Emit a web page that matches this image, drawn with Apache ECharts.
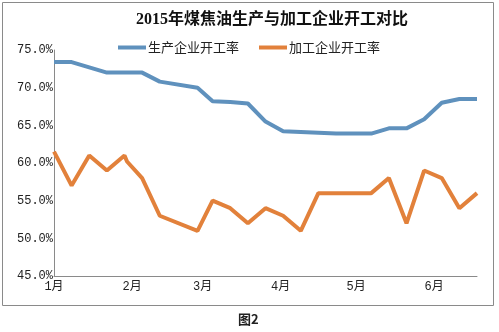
<!DOCTYPE html>
<html>
<head>
<meta charset="utf-8">
<script src="https://cdn.jsdelivr.net/npm/echarts@6/dist/echarts.min.js"></script>
<style>
  html, body { margin: 0; padding: 0; background: #fff; }
  #chart { width: 499px; height: 332px; }
</style>
</head>
<body>
<div id="chart"></div>
<script>
// Weekly survey dates (2015)
var dates = [
  '2015-01-01', '2015-01-08', '2015-01-15', '2015-01-22', '2015-01-29', '2015-01-30',
  '2015-02-05', '2015-02-12', '2015-02-27', '2015-03-05', '2015-03-12', '2015-03-19',
  '2015-03-26', '2015-04-02', '2015-04-09', '2015-04-16', '2015-04-23', '2015-04-30',
  '2015-05-07', '2015-05-14', '2015-05-21', '2015-05-28', '2015-06-04', '2015-06-11',
  '2015-06-18'
];
// Operating rate of producers (%)
var producerRate = [
  73.4, 73.4, 72.7, 72.0, 72.0, 72.0,
  72.0, 70.8, 70.0, 68.2, 68.1, 67.9,
  65.5, 64.2, 64.1, 64.0, 63.9, 63.9,
  63.9, 64.6, 64.6, 65.8, 68.0, 68.5,
  68.5
];
// Operating rate of processors (%)
var processorRate = [
  61.5, 57.0, 61.0, 59.0, 61.0, 60.2,
  58.0, 53.0, 51.0, 55.0, 54.0, 52.0,
  54.0, 53.0, 51.0, 56.0, 56.0, 56.0,
  56.0, 58.0, 52.0, 59.0, 58.0, 54.0,
  56.0
];
var seriesNames = ['生产企业开工率', '加工企业开工率'];
var yTicks = [45, 50, 55, 60, 65, 70, 75];

function pairs(values) {
  return dates.map(function (d, i) { return [d, values[i]]; });
}

var chart = echarts.init(document.getElementById('chart'), null, { renderer: 'canvas' });
var DAY = 24 * 3600 * 1000;

chart.setOption({
  backgroundColor: '#ffffff',
  animation: false,
  graphic: [
    {
      type: 'rect',
      shape: { x: 2.5, y: 2.5, width: 491, height: 303 },
      style: { fill: 'none', stroke: '#8a8a8a', lineWidth: 1 },
      z: -1
    },
    {
      type: 'text',
      left: 238,
      top: 313,
      style: {
        text: '图2',
        font: 'bold 13px "Noto Sans CJK SC", sans-serif',
        fill: '#222'
      }
    }
  ],
  title: {
    text: '2015年煤焦油生产与加工企业开工对比',
    left: 136,
    top: 12,
    padding: 0,
    textStyle: {
      fontFamily: '"Liberation Serif", "Noto Sans CJK SC", serif',
      fontSize: 16,
      fontWeight: 'bold',
      color: '#111'
    }
  },
  legend: {
    left: 118,
    top: 41,
    padding: 0,
    itemGap: 20,
    itemWidth: 28,
    itemHeight: 4,
    icon: 'rect',
    data: seriesNames,
    textStyle: {
      fontFamily: '"Noto Sans CJK SC", sans-serif',
      fontSize: 13,
      color: '#222',
      padding: [0, 0, 0, -3]
    }
  },
  grid: {
    left: 54,
    right: 22,
    top: 50,
    bottom: 56,
    containLabel: false
  },
  xAxis: {
    type: 'time',
    min: '2015-01-01',
    max: '2015-06-18',
    minInterval: 28 * DAY,
    maxInterval: 31 * DAY,
    splitLine: { show: false },
    axisTick: { show: false },
    axisLine: { lineStyle: { color: '#8a8a8a', width: 1 } },
    axisLabel: {
      margin: 5,
      showMinLabel: true,
      fontFamily: '"Liberation Mono", "Noto Sans CJK SC", monospace',
      fontSize: 12,
      color: '#222',
      formatter: function (v) {
        var d = new Date(v);
        return d.getDate() === 1 ? (d.getMonth() + 1) + '月' : '';
      }
    }
  },
  yAxis: {
    type: 'value',
    min: yTicks[0],
    max: yTicks[yTicks.length - 1],
    interval: yTicks[1] - yTicks[0],
    splitLine: { show: false },
    axisTick: { show: false },
    axisLine: { show: true, lineStyle: { color: '#8a8a8a', width: 1 } },
    axisLabel: {
      margin: 1,
      fontFamily: '"Liberation Mono", monospace',
      fontSize: 12,
      color: '#222',
      formatter: function (v) { return v.toFixed(1) + '%'; }
    }
  },
  series: [
    {
      name: seriesNames[0],
      type: 'line',
      data: pairs(producerRate),
      symbol: 'none',
      lineStyle: { width: 4, color: '#5f91bd' },
      itemStyle: { color: '#5f91bd' }
    },
    {
      name: seriesNames[1],
      type: 'line',
      data: pairs(processorRate),
      symbol: 'none',
      lineStyle: { width: 4, color: '#e2813b' },
      itemStyle: { color: '#e2813b' }
    }
  ]
});
</script>
</body>
</html>
